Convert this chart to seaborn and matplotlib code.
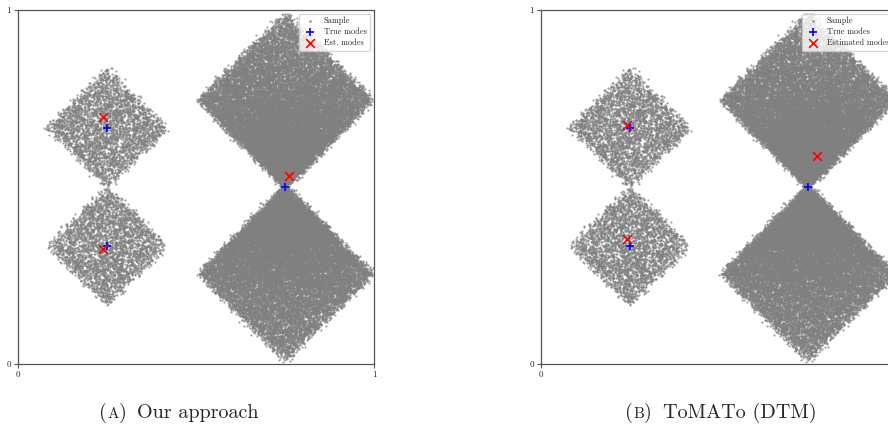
import numpy as np
import pandas as pd

import matplotlib
matplotlib.use('Agg')

import matplotlib.pyplot as plt
import seaborn as sns

# Mode locations
true_x = [0.25, 0.25, 0.75]
true_y = [0.667, 0.333, 0.50]
est_a_x = [0.240, 0.240, 0.762]
est_a_y = [0.698, 0.324, 0.531]
est_b_x = [0.242, 0.242, 0.777]
est_b_y = [0.673, 0.353, 0.587]

# Sample cloud: diamonds given by tip, half-diagonal and point count
small_tips = [(0.25, 0.50), (0.25, 0.167)]
small_half = 0.167
small_count = 3500
big_tip = (0.75, 0.50)
big_half = 0.245
big_count = 60000

legend_a = ["Sample", "True modes", "Est. modes"]
legend_b = ["Sample", "True modes", "Estimated modes"]
captions = [("A", "Our approach", 179), ("B", "ToMATo (DTM)", 721)]

# the sample itself is a random draw in the source figure, seeded here
rng = np.random.default_rng(3)
pts = []
for tx, ty in small_tips:
    a, b = rng.random(small_count), rng.random(small_count)
    x = tx + small_half * (a - b)
    y = ty + small_half * (a + b)
    pts.append(np.c_[x, y])
for sgn in (1, -1):
    a, b = rng.random(big_count), rng.random(big_count)
    x = big_tip[0] + big_half * (a - b)
    y = big_tip[1] + sgn * big_half * (a + b)
    r = np.hypot(x - big_tip[0], y - big_tip[1])
    keep = rng.random(big_count) < 0.1 + 0.9 * np.exp(-r / 0.2)
    pts.append(np.c_[x[keep], y[keep]])
pts = np.vstack(pts)
pts += rng.normal(0, 0.006, pts.shape)
sample = pd.DataFrame({"x": pts[:, 0], "y": pts[:, 1]})

sns.set_theme(style="white")
plt.rcParams['font.family'] = ['cmr10', 'DejaVu Serif']
plt.rcParams['axes.formatter.use_mathtext'] = True

fig = plt.figure(figsize=(8.88, 4.24), dpi=100)
axes = [fig.add_axes([0.0203, 0.1415, 0.4009, 0.836]),
        fig.add_axes([0.6089, 0.1415, 0.4009, 0.836])]

panels = [(est_a_x, est_a_y, legend_a), (est_b_x, est_b_y, legend_b)]
for ax, (ex, ey, labels) in zip(axes, panels):
    sns.scatterplot(data=sample, x="x", y="y", ax=ax, s=2.5, color="#808080",
                    alpha=0.75, linewidth=0, label=labels[0], rasterized=True)
    sns.scatterplot(x=true_x, y=true_y, ax=ax, marker="+", s=40, color="blue",
                    linewidth=1.2, label=labels[1], zorder=5)
    sns.scatterplot(x=ex, y=ey, ax=ax, marker="x", s=40, color="red",
                    linewidth=1.2, label=labels[2], zorder=6)
    ax.set_xlim(0, 1)
    ax.set_ylim(0, 1)
    ax.set_xticks([0, 1])
    ax.set_yticks([0, 1])
    ax.set_xticklabels(["0", "1"])
    ax.set_yticklabels(["0", "1"])
    ax.set_xlabel("")
    ax.set_ylabel("")
    ax.tick_params(axis="both", which="both", direction="out", length=3, width=0.8,
                   color="#555555", labelsize=6.5, pad=2, bottom=True, left=True)
    for sp in ax.spines.values():
        sp.set_color("#555555")
        sp.set_linewidth(0.9)
    leg = ax.legend(loc="upper right", fontsize=6, borderaxespad=0.5,
                    handletextpad=0.6, labelspacing=0.3, borderpad=0.4,
                    markerscale=1.0, fancybox=True)
    leg.legend_handles[0].set_sizes([4])
    leg.get_frame().set_edgecolor("#cccccc")

# subfigure captions with a small-caps letter, extra gap after the label
renderer = fig.canvas.get_renderer()
for letter, text, cx in captions:
    parts = [("(", 14.5, 0), (letter, 11, 0), (")", 14.5, 11), (text, 14.5, 0)]
    objs = [fig.text(0, 0, s, fontsize=fs, va="baseline", ha="left",
                     transform=None) for s, fs, _ in parts]
    widths = [o.get_window_extent(renderer).width + g
              for o, (_, _, g) in zip(objs, parts)]
    x = cx - sum(widths) / 2
    for o, w in zip(objs, widths):
        o.set_position((x, 424 - 418))
        x += w

fig.savefig("out.png", dpi=100)
plt.close()
